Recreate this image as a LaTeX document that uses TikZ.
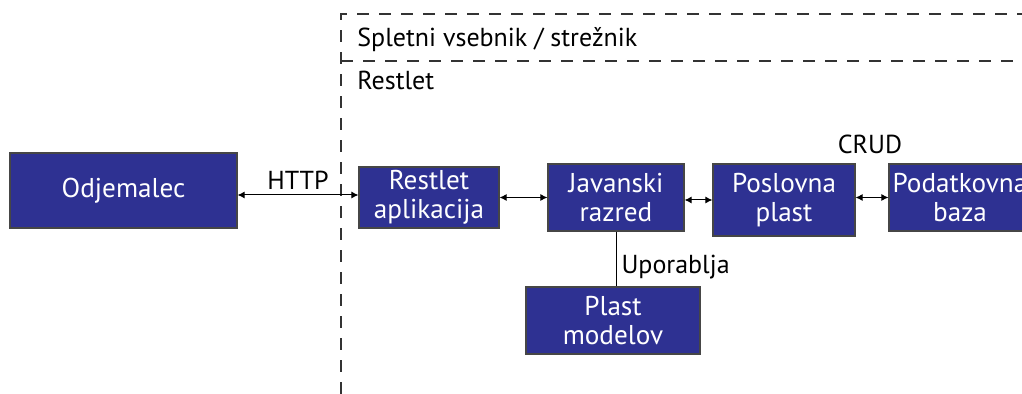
\documentclass[tikz,border=0pt]{standalone}
\usepackage{fontspec}
\setmainfont{PT Sans}
\usepackage{tikz}
\usetikzlibrary{arrows.meta, positioning}
\definecolor{indigo}{RGB}{46,49,146}
\definecolor{rim}{RGB}{70,70,70}

\begin{document}
\begin{tikzpicture}[x=0.5pt, y=-0.5pt,
      every node/.style={font=\fontsize{13}{14.5}\selectfont},
      blok/.style={draw=rim, line width=0.6pt, fill=indigo, text=white,
                   align=center, inner sep=0pt, font=\fontsize{13.6}{14.5}\selectfont},
      link/.style={line width=0.5pt, {Latex[length=3.5pt,width=3.5pt]}-{Latex[length=3.5pt,width=3.5pt]}},
      meja/.style={draw=black!80, dash pattern=on 6pt off 5pt, line width=0.6pt}]
    \useasboundingbox (0,0) rectangle (1022,394);
    % server boundary
    \draw[meja] (341,394) -- (341,14) -- (1022,14);
    \draw[meja] (341,61) -- (1022,61);
    \node[anchor=west, inner sep=0pt] (vsebnik) at (357,40) {Spletni vsebnik / strežnik};
    \node[anchor=west, inner sep=0pt] (restlet) at (357,80) {Restlet};
    % blocks
    \node[blok, minimum width=113.5pt, minimum height=37.5pt] (odj) at (123.5,190.5) {Odjemalec};
    \node[blok, minimum width=70pt, minimum height=30.5pt] (app) at (429,197.5) {Restlet\\aplikacija};
    \node[blok, minimum width=68pt, minimum height=33.5pt] (java) at (616,197.5) {Javanski\\razred};
    \node[blok, minimum width=71pt, minimum height=36pt] (posl) at (784,200) {Poslovna\\plast};
    \node[blok, minimum width=71pt, minimum height=33.5pt] (baza) at (960,197.5) {Podatkovna\\baza};
    \node[blok, minimum width=87pt, minimum height=33.5pt] (model) at (613,320.5) {Plast\\modelov};
    % connectors
    \draw[link] (odj.east |- 0,195) -- (app.west |- 0,195)
        node[midway, above=-1pt] (http) {HTTP};
    \draw[link] (app.east) -- (java.west |- app.east);
    \draw[link] (java.east |- posl.west) -- (posl.west);
    \draw[link] (posl.east |- baza.west) -- (baza.west);
    \node (crud) at (870,144) {CRUD};
    \draw[line width=0.5pt] (java.south) -- (model.north -| java.south)
        node[pos=0.65, right=2.5pt, inner sep=0pt] (upo) {Uporablja};
\end{tikzpicture}
\end{document}
